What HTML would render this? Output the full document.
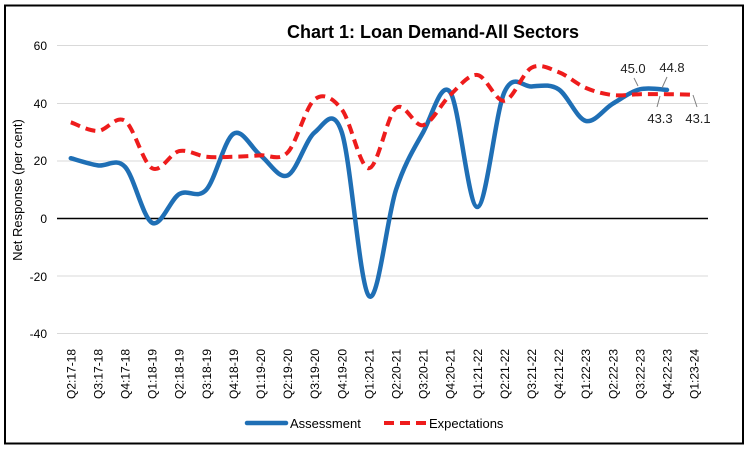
<!DOCTYPE html>
<html><head><meta charset="utf-8"><style>
html,body{margin:0;padding:0;background:#fff;}
svg{display:block;font-family:"Liberation Sans",Arial,sans-serif;}
</style></head><body>
<svg id="s" width="752" height="452" viewBox="0 0 752 452" xmlns="http://www.w3.org/2000/svg">
<rect x="5" y="5.5" width="738" height="438" fill="#fff" stroke="#000" stroke-width="2"/>
<text x="433" y="38" text-anchor="middle" font-size="18" font-weight="bold">Chart 1: Loan Demand-All Sectors</text>
<g stroke="#d9d9d9" stroke-width="1">
<line x1="57" x2="708" y1="45.5" y2="45.5"/>
<line x1="57" x2="708" y1="103.5" y2="103.5"/>
<line x1="57" x2="708" y1="161" y2="161"/>
<line x1="57" x2="708" y1="276" y2="276"/>
<line x1="57" x2="708" y1="333.5" y2="333.5"/>
</g>
<line x1="57" x2="708" y1="218.5" y2="218.5" stroke="#000" stroke-width="1.5"/>
<g font-size="12" text-anchor="end" fill="#000">
<text x="47" y="50">60</text><text x="47" y="108">40</text><text x="47" y="165">20</text>
<text x="47" y="223">0</text><text x="47" y="281">-20</text><text x="47" y="338">-40</text>
</g>
<text transform="translate(22,190) rotate(-90)" text-anchor="middle" font-size="13">Net Response (per cent)</text>
<g id="xl" font-size="12"></g>
<path id="pa" fill="none" stroke="#1f6fb5" stroke-width="4.5" stroke-linecap="round"/>
<path id="pe" fill="none" stroke="#ee1c1c" stroke-width="4" stroke-dasharray="10,6"/>
<g stroke="#808080" stroke-width="1">
<line x1="634" y1="78" x2="638" y2="86"/>
<line x1="667" y1="77" x2="662" y2="88"/>
<line x1="660" y1="96" x2="657" y2="107"/>
<line x1="693" y1="95" x2="697" y2="107"/>
</g>
<g font-size="13" fill="#222" text-anchor="middle">
<text x="633" y="73">45.0</text><text x="672" y="72">44.8</text>
<text x="660" y="123">43.3</text><text x="698" y="123">43.1</text>
</g>
<line x1="247" x2="286" y1="423" y2="423" stroke="#1f6fb5" stroke-width="4.5" stroke-linecap="round"/>
<text x="290" y="428" font-size="13">Assessment</text>
<line x1="384" x2="426" y1="423" y2="423" stroke="#ee1c1c" stroke-width="4" stroke-dasharray="10,6"/>
<text x="429" y="428" font-size="13">Expectations</text>
</svg>
<script>
var labels=["Q2:17-18","Q3:17-18","Q4:17-18","Q1:18-19","Q2:18-19","Q3:18-19","Q4:18-19","Q1:19-20","Q2:19-20","Q3:19-20","Q4:19-20","Q1:20-21","Q2:20-21","Q3:20-21","Q4:20-21","Q1:21-22","Q2:21-22","Q3:21-22","Q4:21-22","Q1:22-23","Q2:22-23","Q3:22-23","Q4:22-23","Q1:23-24"];
var A=[21,18.5,18,-1.5,8.5,10,29.5,22,15,30,30,-27,10,30,44,4,44,46,45,34,40,45,44.8];
var E=[33.5,30.5,34,17.5,23.5,21.5,21.5,22,23,41.5,38,17.5,38.5,32.5,43,50,41,52.5,51,45.5,43,43.3,43.3,43.1];
function X(i){return 70.8+27.1*i;}
function Y(v){return 218.5-v*2.8708;}
var ns="http://www.w3.org/2000/svg",g=document.getElementById("xl");
labels.forEach(function(l,i){var t=document.createElementNS(ns,"text");
t.setAttribute("transform","translate("+(X(i)+4.5)+",399) rotate(-90)");t.textContent=l;g.appendChild(t);});
function path(d){var p=d.map(function(v,i){return [X(i),Y(v)];});
var s="M"+p[0][0]+","+p[0][1];var k=1/6;
for(var i=0;i<p.length-1;i++){var p0=p[i-1]||p[i],p1=p[i],p2=p[i+1],p3=p[i+2]||p[i+1];
s+=" C"+(p1[0]+(p2[0]-p0[0])*k)+","+(p1[1]+(p2[1]-p0[1])*k)+" "+(p2[0]-(p3[0]-p1[0])*k)+","+(p2[1]-(p3[1]-p1[1])*k)+" "+p2[0]+","+p2[1];}
return s;}
document.getElementById("pa").setAttribute("d",path(A));
document.getElementById("pe").setAttribute("d",path(E));
</script>
</body></html>
